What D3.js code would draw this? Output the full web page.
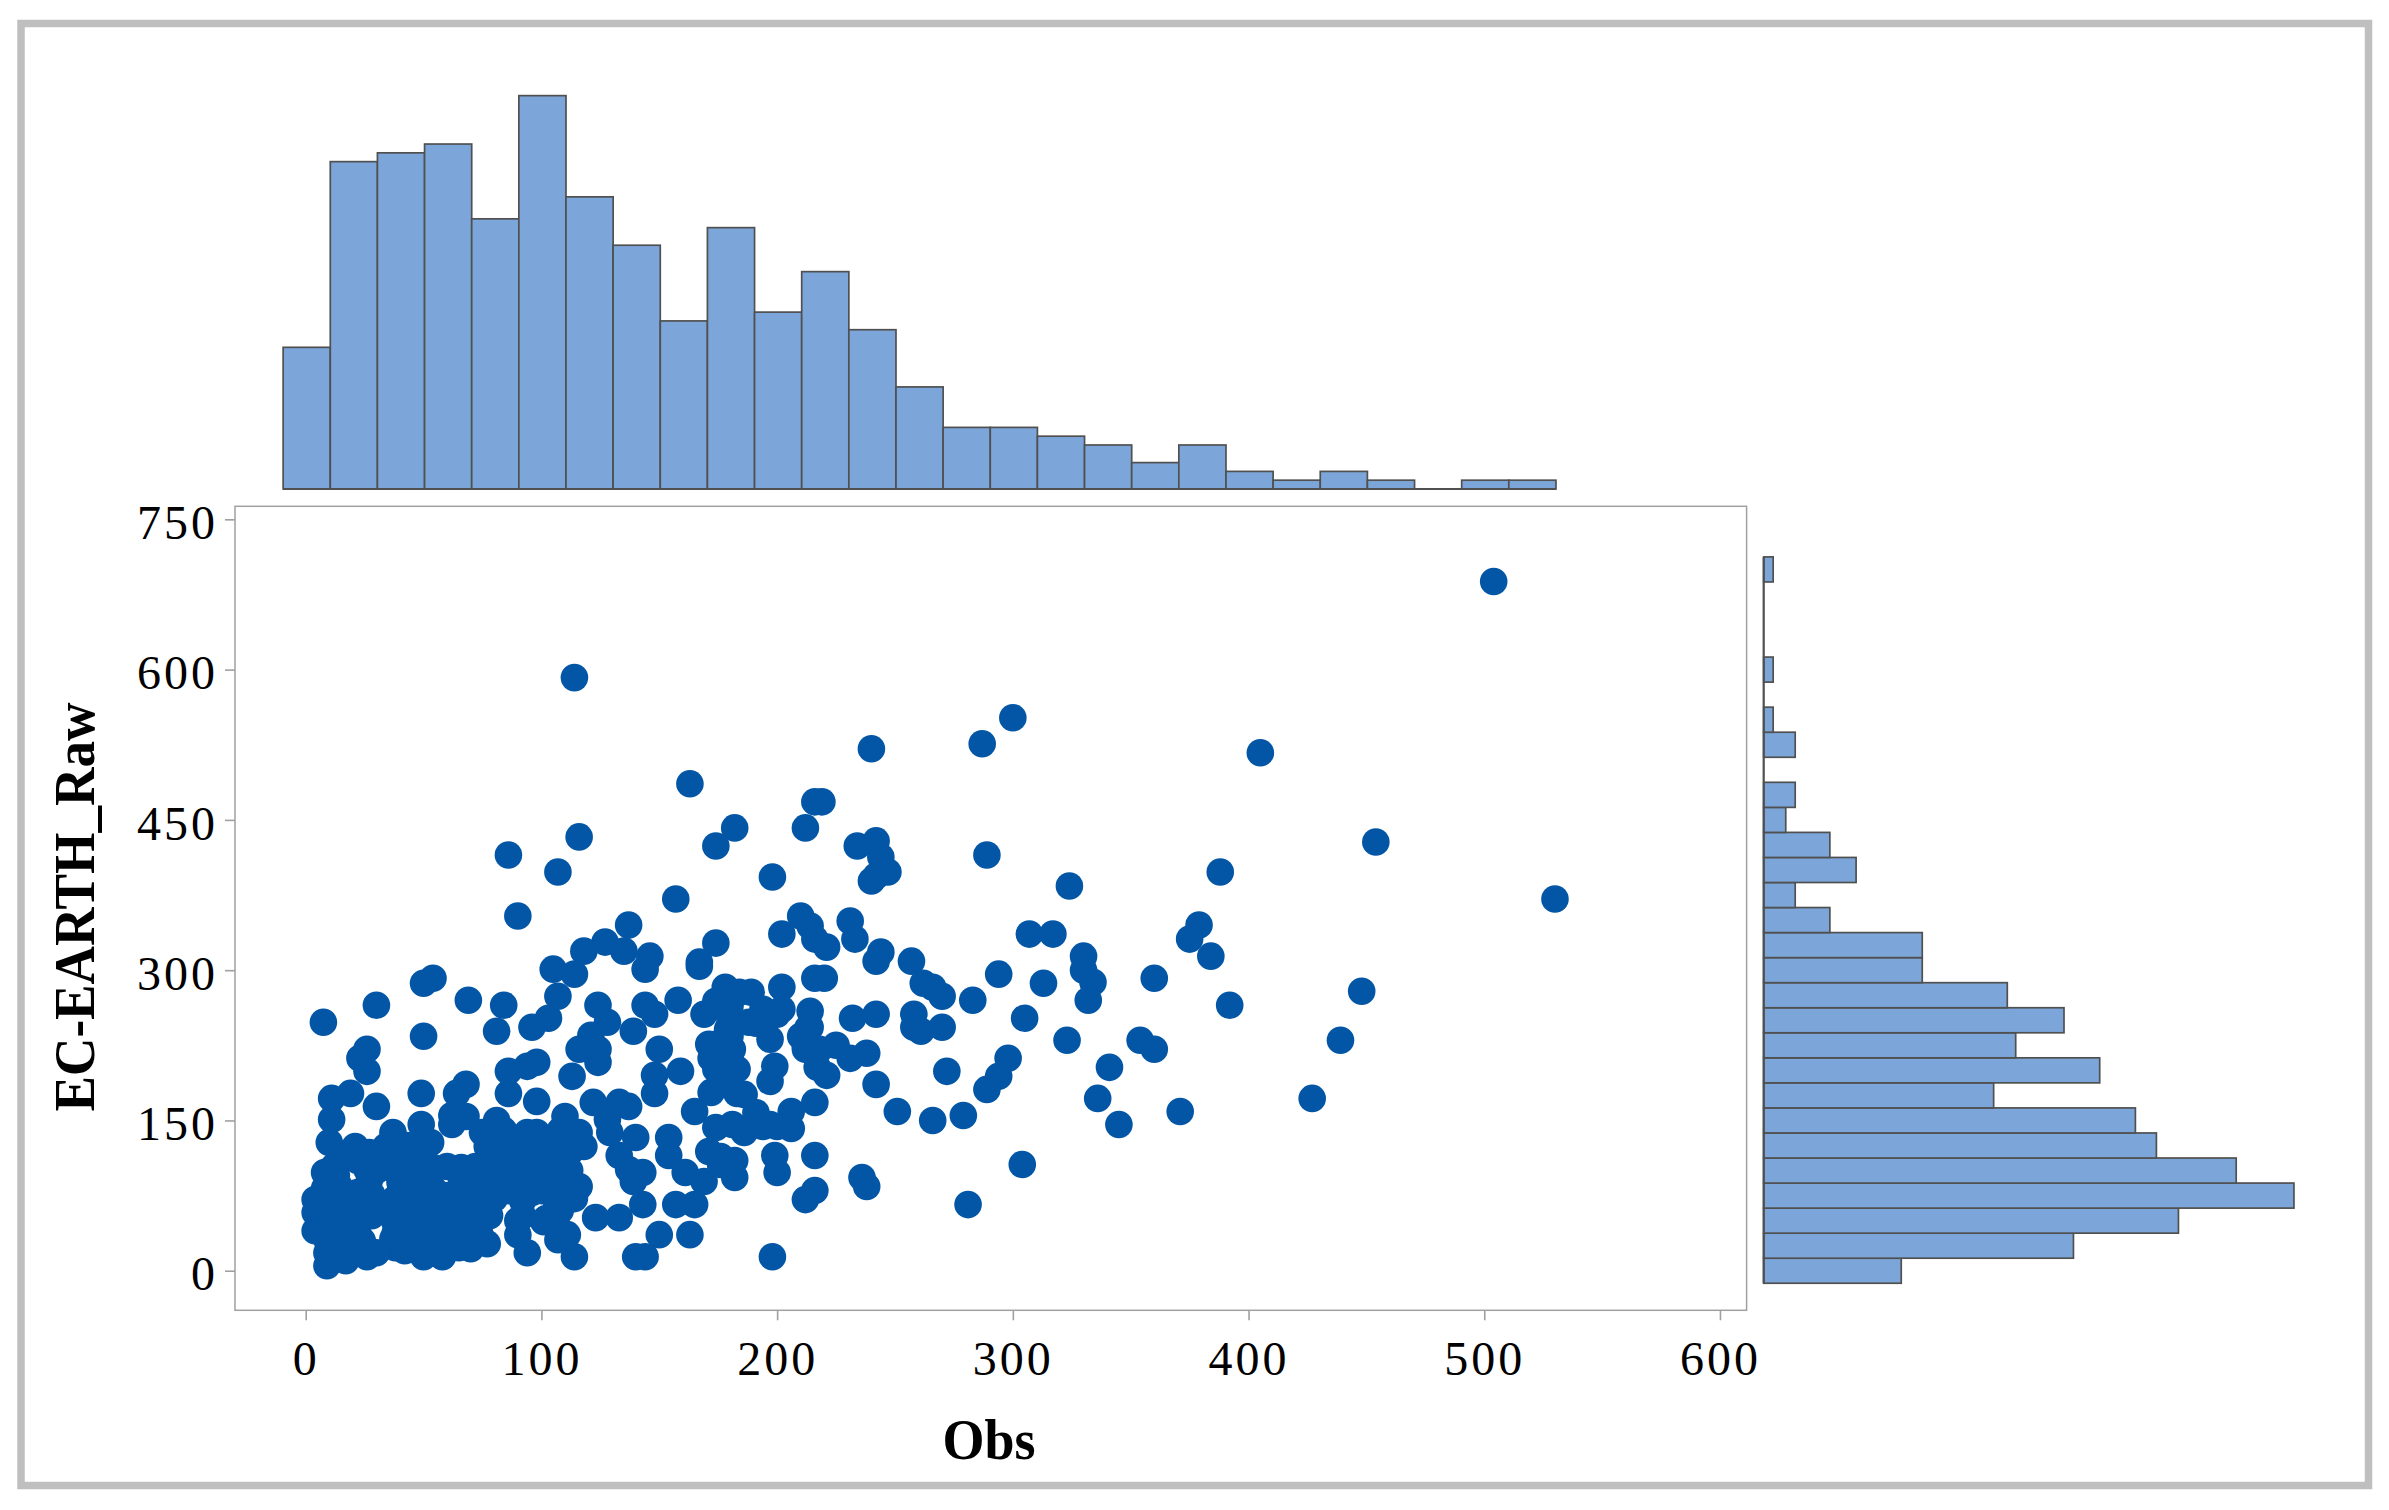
<!DOCTYPE html>
<html>
<head>
<meta charset="utf-8">
<script src="https://cdn.jsdelivr.net/npm/d3@7"></script>
<style>
  html, body { margin: 0; padding: 0; background: #fff; }
  text { font-family: "Liberation Serif", serif; fill: #000; }
</style>
</head>
<body>
<svg id="chart" width="2389" height="1510"></svg>
<script>
// tick labels
const xTicks = [0, 100, 200, 300, 400, 500, 600];
const yTicks = [0, 150, 300, 450, 600, 750];

// top histogram, Obs, bins 20 wide starting at -10
const obsBinStart = -10;
const obsBinWidth = 20;
const obsCounts = [16.1, 37.2, 38.2, 39.2, 30.7, 44.7, 33.2, 27.7, 19.1, 29.7, 20.1, 24.7, 18.1, 11.6,
                   7, 7, 6, 5, 3, 5, 2, 1, 2, 1, 0, 1, 1];

// right histogram, EC-EARTH_Raw, bins 25 wide starting at -12.5
const rawBinStart = -12.5;
const rawBinWidth = 25;
const rawCounts = [13.1, 29.5, 39.5, 50.5, 45, 37.4, 35.4, 21.9, 32, 24, 28.6, 23.2, 15.1, 15.1,
                   6.3, 3, 8.8, 6.3, 2.1, 3, 0, 3, 0.9, 0, 0.9, 0, 0, 0, 0.9];

// scatter, [Obs, EC-EARTH_Raw]
const upperPoints = [
  [504,688],[114,592],[300,552],[287,526],[240,521],[405,517],[163,486],[216,468],[219,468],[212,442],[182,442],
  [116,433],[234,424],[242,429],[174,424],[86,415],[289,415],[244,413],[247,398],[240,389],[242,394],[107,398],
  [388,398],[198,393],[454,428],[530,371],[324,384],[157,371],[90,354],[379,345],[375,331],[384,314],[137,345],
  [127,328],[135,319],[118,319],[105,301],[114,296],[146,314],[144,301],[174,327],[167,308],[167,304],[54,292],[50,287],
  [307,336],[317,336],[330,314],[330,300],[334,288],[332,270],[313,287],[360,292],[392,265],[448,279],[294,296],[283,270],
  [202,336],[210,354],[214,344],[216,331],[221,323],[231,349],[233,331],[244,318],[242,309],[257,309],
  [262,287],[266,283],[270,274],[202,283],[216,292],[220,292],[202,261],[214,259],[232,252],[242,256],[258,256]
];
const middlePoints = [
  [258,243],[261,239],[270,243],[305,252],[323,230],[354,230],[360,221],[341,203],[336,172],[345,146],[371,159],
  [427,172],[439,230],[304,106],[281,66],[298,212],[294,194],[289,181],[272,199],[279,155],[266,150],[251,159],
  [242,186],[238,217],[231,212],[225,225],[221,195],[217,203],[214,243],[210,234],[212,221],[216,216],[200,256],
  [197,231],[199,204],[197,189],[216,168],[206,159],[206,142],[197,146],[216,115],[199,115],[200,98],[236,93],
  [238,84],[216,80],[212,71],[198,14],
  [7.5,248],[30,265],[69,270],[84,265],[81,239],[50,234],[96,243],[103,252],[107,274],[124,265],[128,248],[121,235],
  [116,221],[124,208],[124,221],[139,239],[148,256],[144,265],[158,270],[169,256],[150,221],[148,195],[148,177],
  [159,199],[165,159],[154,133],[154,115],[161,98],[169,89],[171,119],[176,106],[182,93],[157,66],[165,66],
  [150,36],[163,36],[140,14],[144,14],[143,66],[133,53],[123,53],[114,14],[111,36],[107,31],[101,49],[90,36],[94,18],
  [174,226],[173,214],[181,221],[180,234],[183,201],[172,178],[186,176],[191,158],[174,143],[181,146],[186,138],
  [194,144],[180,251],[188,248],[194,261],[178,283],[174,269],[189,278],[184,278],[180,264],[195,255],
  [213,242],[212,224],[218,221],[196,252],[191,247],[171,226],[177,227],[179,241],[172,212],[180,212],[179,194],
  [174,201],[183,177],[191,151],[200,144],[176,114],[182,110]
];
const densePoints = [
  [77,27],[139,89],[143,98],[137,101],[133,115],[140,133],[129,138],[137,164],[133,168],[122,168],[128,151],[110,154],
  [118,124],[116,138],[116,84],[109,71],[98,169],[86,177],[86,199],[98,208],[94,204],[113,194],[68,186],[64,177],
  [62,155],[68,154],[62,146],[81,150],[75,138],[94,138],[98,138],[49,177],[49,146],[30,164],[26,221],[23,212],[26,199],
  [19,177],[11,172],[11,151],[10,128],[37,138],[21,124],[34,124],[53,128],[77,124],[9,5],[17,10],[26,14],[38,23],
  [50,14],[58,14],[65,23],[4,40],[4,58],[4,71],[8,98],[9,18],[9,31],
  [10,40],[12,58],[15,30],[14,75],[18,48],[22,78],[22,65],[13,95],[24,30],[26,101],[16,112],[32,60],[27,90],
  [38,72],[38,100],[40,112],[44,90],[42,60],[46,40],[48,30],[50,50],[52,65],[54,82],[54,103],[48,118],[58,30],[60,45],
  [62,60],[64,75],[66,92],[72,104],[70,40],[72,55],[74,70],[76,85],[78,100],[80,112],[68,35],[78,68],[84,82],[86,95],
  [88,110],[90,125],[92,70],[94,85],[96,100],[98,115],[100,130],[102,95],[104,110],[106,125],[108,140],[110,100],
  [112,118],[75,60],[56,18],[60,25],[44,22],[37,32],[30,100],[27,118],[23,50],[20,25],[105,75],[92,55],[88,130],[94,120],[84,140],
  [12,104],[46,104],[66,103],[86,105],[104,100],[8,82],[42,80],[86,80],[104,85],[18,62],[54,62],[70,62],[38,48],[58,40],[42,20],[70,22],[43,125],
  [22,110],[33,110],[44,108],[60,104],[40,88],[50,92],[72,92],[80,95],[90,100],[14,85],[48,78],[60,75],[68,80],[72,78],[82,90],
  [8,68],[28,76],[46,70],[58,68],[66,66],[80,72],[8,50],[16,55],[28,55],[38,58],[46,55],[56,52],[66,50],[78,55],
  [16,40],[22,38],[38,38],[52,38],[64,38],[74,36],[14,20],[30,18],[52,25],[64,30],
  [88,95],[100,80],[108,88],[100,108],[92,100],[112,100],[96,78],[90,85],[102,52],[108,60],[114,72],[90,50]
];

const pointColor = "#0356a6";
const barFill = "#7ca6d9";
const barStroke = "#505050";
const axisGrey = "#a0a0a0";

const svg = d3.select("#chart");

// outer frame
svg.append("rect")
   .attr("x", 21).attr("y", 23.5).attr("width", 2347.5).attr("height", 1462)
   .attr("fill", "#fff").attr("stroke", "#bfbfbf").attr("stroke-width", 7.5);

const x = d3.scaleLinear().domain([-30, 611.3]).range([235, 1746.6]);
const y = d3.scaleLinear().domain([-39.5, 763]).range([1310.3, 506.3]);

// plot box
svg.append("rect")
   .attr("x", x(-30)).attr("y", y(763))
   .attr("width", x(611.3) - x(-30)).attr("height", y(-39.5) - y(763))
   .attr("fill", "none").attr("stroke", axisGrey).attr("stroke-width", 1.5);

const xAxis = svg.append("g")
   .attr("transform", `translate(0,${y(-39.5)})`)
   .call(d3.axisBottom(x).tickValues(xTicks).tickSize(10).tickPadding(21).tickFormat(d3.format("d")));
const yAxis = svg.append("g")
   .attr("transform", `translate(${x(-30)},0)`)
   .call(d3.axisLeft(y).tickValues(yTicks).tickSize(10).tickPadding(7).tickFormat(d3.format("d")));
[xAxis, yAxis].forEach(a => {
  a.select(".domain").remove();
  a.selectAll("line").attr("stroke", axisGrey).attr("stroke-width", 1.6);
  a.selectAll("text")
   .attr("font-size", 48)
   .attr("letter-spacing", 3)
   .style("font-family", '"Liberation Serif", serif');
});
yAxis.selectAll("text").attr("dy", "0.4em");

// scatter
svg.append("g")
   .selectAll("circle")
   .data(upperPoints.concat(middlePoints, densePoints))
   .join("circle")
   .attr("cx", d => x(d[0]))
   .attr("cy", d => y(d[1]))
   .attr("r", 13.8)
   .attr("fill", pointColor);

// top histogram
const topBase = 489;
const countTop = d3.scaleLinear().domain([0, 1]).range([topBase, topBase - 8.8]);
const topHist = svg.append("g").attr("transform", "translate(1,0)");
topHist.selectAll("rect")
   .data(obsCounts)
   .join("rect")
   .attr("x", (d, i) => x(obsBinStart + i * obsBinWidth))
   .attr("y", d => countTop(d))
   .attr("width", x(obsBinWidth) - x(0))
   .attr("height", d => topBase - countTop(d))
   .attr("fill", barFill)
   .attr("stroke", barStroke)
   .attr("stroke-width", 1.7);
topHist.append("line")
   .attr("x1", x(obsBinStart))
   .attr("x2", x(obsBinStart + obsCounts.length * obsBinWidth))
   .attr("y1", topBase).attr("y2", topBase)
   .attr("stroke", barStroke)
   .attr("stroke-width", 2.2);

// right histogram
const rightBase = 1763.7;
const countRight = d3.scaleLinear().domain([0, 1]).range([rightBase, rightBase + 10.5]);
const rightHist = svg.append("g");
rightHist.selectAll("rect")
   .data(rawCounts)
   .join("rect")
   .attr("x", rightBase)
   .attr("y", (d, i) => y(rawBinStart + (i + 1) * rawBinWidth))
   .attr("width", d => countRight(d) - rightBase)
   .attr("height", y(0) - y(rawBinWidth))
   .attr("fill", barFill)
   .attr("stroke", barStroke)
   .attr("stroke-width", 1.7);
rightHist.append("line")
   .attr("x1", rightBase).attr("x2", rightBase)
   .attr("y1", y(rawBinStart))
   .attr("y2", y(rawBinStart + rawCounts.length * rawBinWidth))
   .attr("stroke", barStroke)
   .attr("stroke-width", 2.2);

// axis titles
svg.append("text")
   .attr("x", 989).attr("y", 1459)
   .attr("text-anchor", "middle")
   .attr("font-size", 58).attr("font-weight", "bold")
   .attr("textLength", 93).attr("lengthAdjust", "spacingAndGlyphs")
   .text("Obs");
svg.append("text")
   .attr("transform", "translate(94,907) rotate(-90)")
   .attr("text-anchor", "middle")
   .attr("font-size", 56).attr("font-weight", "bold")
   .attr("textLength", 409).attr("lengthAdjust", "spacingAndGlyphs")
   .text("EC-EARTH_Raw");
</script>
</body>
</html>
